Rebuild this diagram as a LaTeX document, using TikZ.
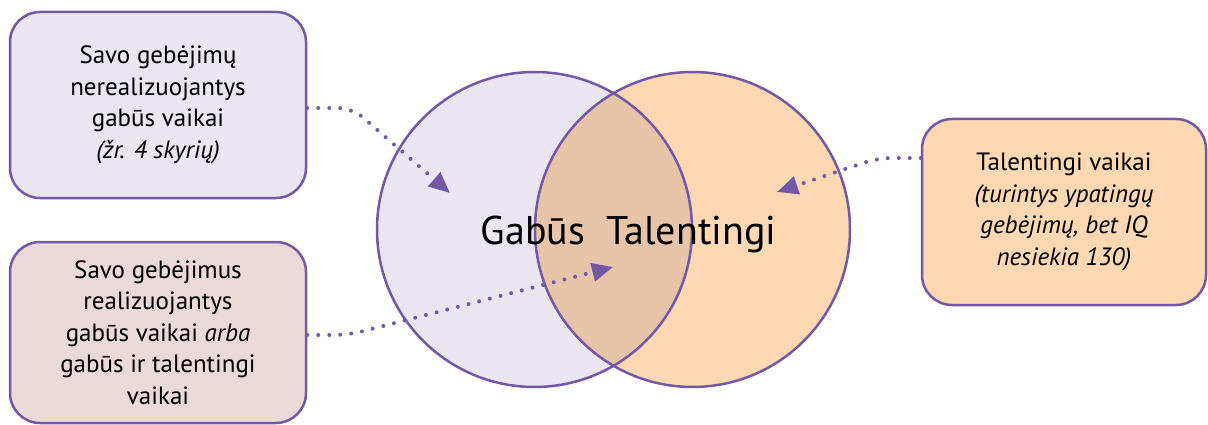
\documentclass[tikz,border=0pt]{standalone}
\usepackage{fontspec}
\setmainfont{PT Sans}
\usetikzlibrary{arrows.meta}
\definecolor{edgec}{RGB}{115,88,165}
\definecolor{lav}{RGB}{233,229,241}
\definecolor{rose}{RGB}{234,217,214}
\definecolor{peach}{RGB}{253,216,178}
\definecolor{mix}{RGB}{231,195,168}
\begin{document}
\begin{tikzpicture}[x=1pt,y=-1pt,
  box/.style={draw=edgec, line width=2.5pt, rounded corners=30pt, align=center,
    font=\fontsize{25}{31.5}\selectfont, inner sep=0pt},
  link/.style={draw=edgec, line width=4pt, line cap=round, dash pattern=on 0pt off 11pt,
    -{Triangle[length=21pt,width=18pt]}, rounded corners=14pt},
  ring/.style={draw=edgec, line width=2.5pt},
  big/.style={font=\fontsize{40}{44}\selectfont, anchor=base, inner sep=0pt}
]
\useasboundingbox (0,0) rectangle (1208,425);
% circles
\coordinate (cL) at (534.5,229.5);
\coordinate (cR) at (692.5,229.5);
\fill[lav] (cL) circle[radius=157.5];
\fill[peach] (cR) circle[radius=157.5];
\begin{scope}
  \clip (cL) circle[radius=157.5];
  \fill[mix] (cR) circle[radius=157.5];
\end{scope}
\draw[ring] (cL) circle[radius=157.5];
\draw[ring] (cR) circle[radius=157.5];
\node[big] (gab) at (533,244) {Gabūs};
\node[big] (tal) at (691.5,244) {Talentingi};
% boxes
\node[box, fill=lav, minimum width=296pt, minimum height=186pt] (b1) at (158,105)
  {Savo gebėjimų\\nerealizuojantys\\gabūs vaikai\\\textit{(žr. 4 skyrių)}};
\node[box, fill=rose, minimum width=296pt, minimum height=181pt] (b2) at (158,332.5)
  {Savo gebėjimus\\realizuojantys\\gabūs vaikai \textit{arba}\\gabūs ir talentingi\\vaikai};
\node[box, fill=peach, minimum width=284pt, minimum height=186pt] (b3) at (1064,212)
  {Talentingi vaikai\\\textit{(turintys ypatingų}\\\textit{gebėjimų, bet IQ}\\\textit{nesiekia 130)}};
% arrow tips
\coordinate (t1) at (450,193);
\coordinate (t2) at (613,267);
\coordinate (t3) at (777,192);
\draw[link] (b1.east |- 0,108) -- (352,108) -- (t1);
\draw[link] (b2.east |- 0,335) -- (348,335) -- (t2);
\draw[link] (b3.west |- 0,158) -- (878,158) -- (t3);
\end{tikzpicture}
\end{document}
